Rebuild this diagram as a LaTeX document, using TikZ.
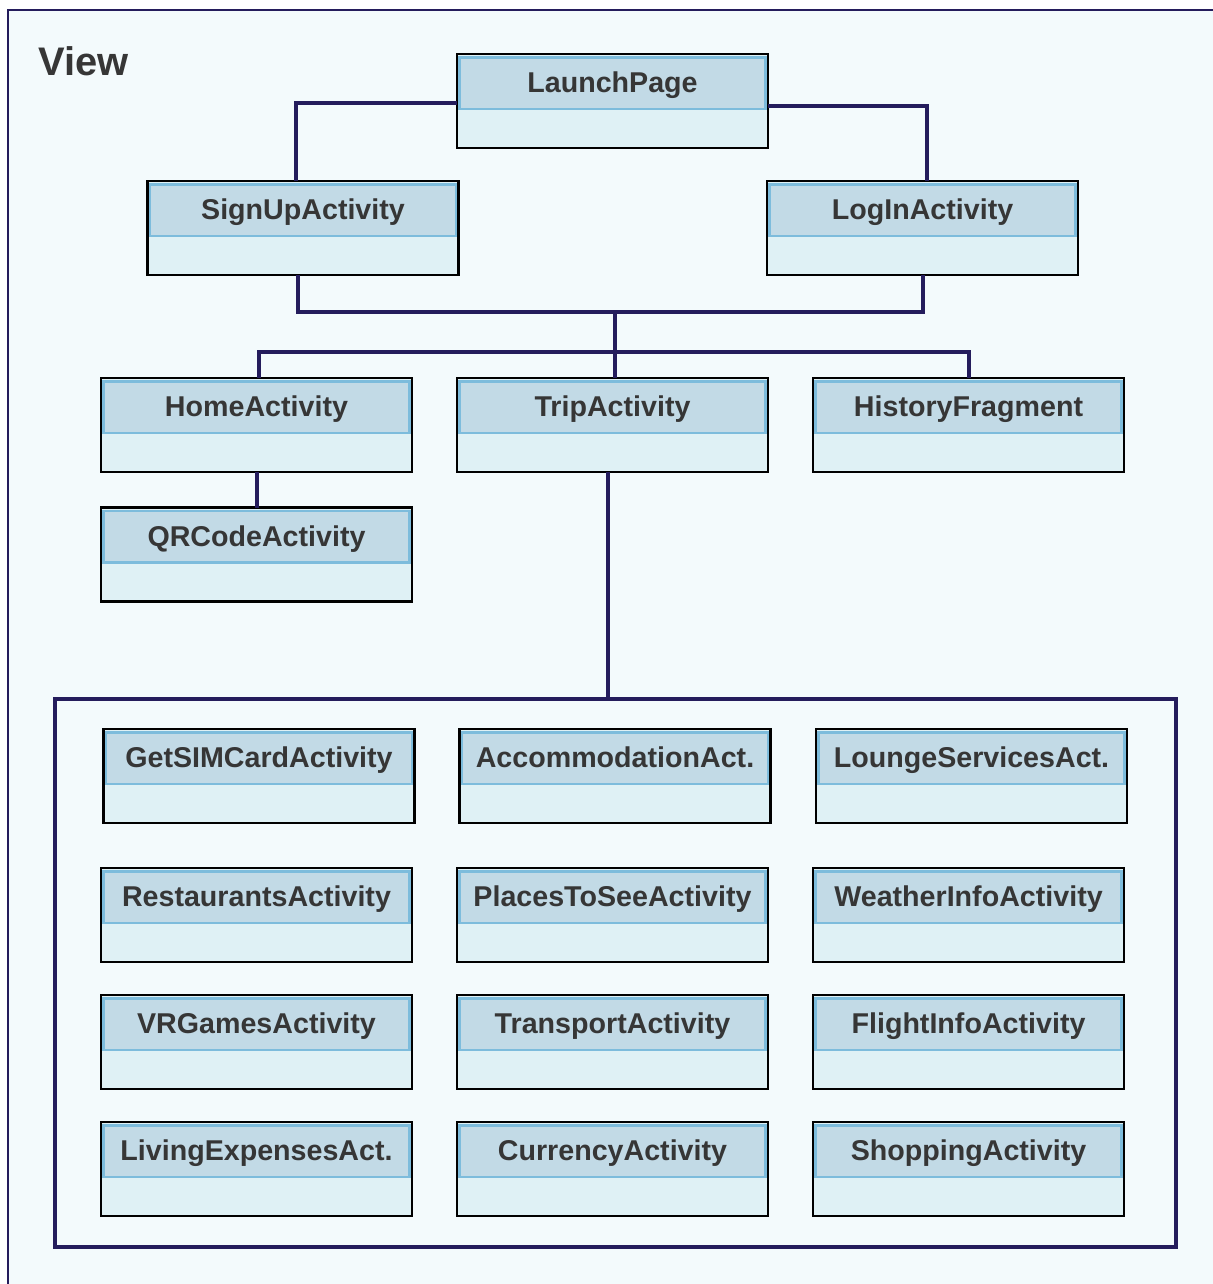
\documentclass[tikz,border=0pt]{standalone}
\usepackage{fontspec}
\setmainfont{Liberation Sans}
\usetikzlibrary{positioning}
\definecolor{navy}{HTML}{241C5C}
\definecolor{paper}{HTML}{F3FAFC}
\definecolor{headfill}{HTML}{C2DAE6}
\definecolor{headline}{HTML}{7DBCDC}
\definecolor{bodyfill}{HTML}{DFF1F5}
\definecolor{textgray}{HTML}{363636}
\tikzset{
	% class box, lower part
	classbody/.style={draw=black,line width=0.045cm,fill=bodyfill,minimum width=6.22cm,
		minimum height=1.88cm,inner sep=0pt,outer sep=0pt},
	% class box, title band
	classhead/.style={draw=headline,line width=0.055cm,fill=headfill,minimum width=6.12cm,
		minimum height=1.03cm,inner sep=0pt,outer sep=0pt,anchor=north,text=textgray,
		font=\fontsize{16.3}{19}\selectfont\bfseries,text height=11.7pt,text depth=1pt},
	% connectors
	link/.style={draw=navy,line width=0.08cm},
	group/.style={draw=navy,line width=0.08cm,minimum width=22.42cm,minimum height=10.96cm,
		inner sep=0pt,outer sep=0pt},
}
\newcommand{\umlclass}[3]{%
	\node[classbody] (#1) at (#2) {};
	\node[classhead] (#1-head) at ([yshift=-0.07cm]#1.north) {#3};
}
\begin{document}
\begin{tikzpicture}[x=0.02cm,y=-0.02cm]
	\useasboundingbox (0,0) rectangle (1213,1284);
	\fill[white] (0,0) rectangle (1213,1284);
	\fill[paper] (8.3,10.3) rectangle (1213,1284);
	\draw[navy,line width=0.04cm] (1213,10.3) -- (8.3,10.3) -- (8.3,1284);
	
	\node[anchor=base west,inner sep=0pt,text=textgray,font=\fontsize{22.7}{26}\selectfont\bfseries] (title) at (38,76) {View};
	
	\umlclass{launch}{612.5,101}{LaunchPage}
	\umlclass{signup}{303,228}{SignUpActivity}
	\umlclass{login}{922.5,228}{LogInActivity}
	\umlclass{home}{256.5,425}{HomeActivity}
	\umlclass{trip}{612.5,425}{TripActivity}
	\umlclass{history}{968.5,425}{HistoryFragment}
	\umlclass{qrcode}{256.5,554.5}{QRCodeActivity}
	
	\node[group] (tripgroup) at (615.5,973) {};
	
	\umlclass{simcard}{259,776}{GetSIMCardActivity}
	\umlclass{accommodation}{615,776}{AccommodationAct.}
	\umlclass{lounge}{971.5,776}{LoungeServicesAct.}
	\umlclass{restaurants}{256.5,915}{RestaurantsActivity}
	\umlclass{places}{612.5,915}{PlacesToSeeActivity}
	\umlclass{weather}{968.5,915}{WeatherInfoActivity}
	\umlclass{vrgames}{256.5,1042}{VRGamesActivity}
	\umlclass{transport}{612.5,1042}{TransportActivity}
	\umlclass{flight}{968.5,1042}{FlightInfoActivity}
	\umlclass{expenses}{256.5,1169}{LivingExpensesAct.}
	\umlclass{currency}{612.5,1169}{CurrencyActivity}
	\umlclass{shopping}{968.5,1169}{ShoppingActivity}
	
	\coordinate (merge) at (615,312);
	\coordinate (split) at (615,352);
	
	\draw[link] ([yshift=-0.05cm]launch.west) -| ([xshift=-0.14cm]signup.north);
	\draw[link] ([yshift=-0.1cm]launch.east) -| ([xshift=0.09cm]login.north);
	\draw[link] ([xshift=-0.1cm]signup.south) |- (merge) -| (login.south);
	\draw[link] (merge) -- (split);
	\draw[link] ([xshift=0.05cm]home.north) |- (split) -| ([xshift=0.01cm]history.north);
	\draw[link] (split) -- (split |- trip.north);
	\draw[link] (home.south) -- (qrcode.north);
	\draw[link] ([xshift=-0.09cm]trip.south) -- ([xshift=-0.09cm]trip.south |- tripgroup.north);
	
\end{tikzpicture}
\end{document}
